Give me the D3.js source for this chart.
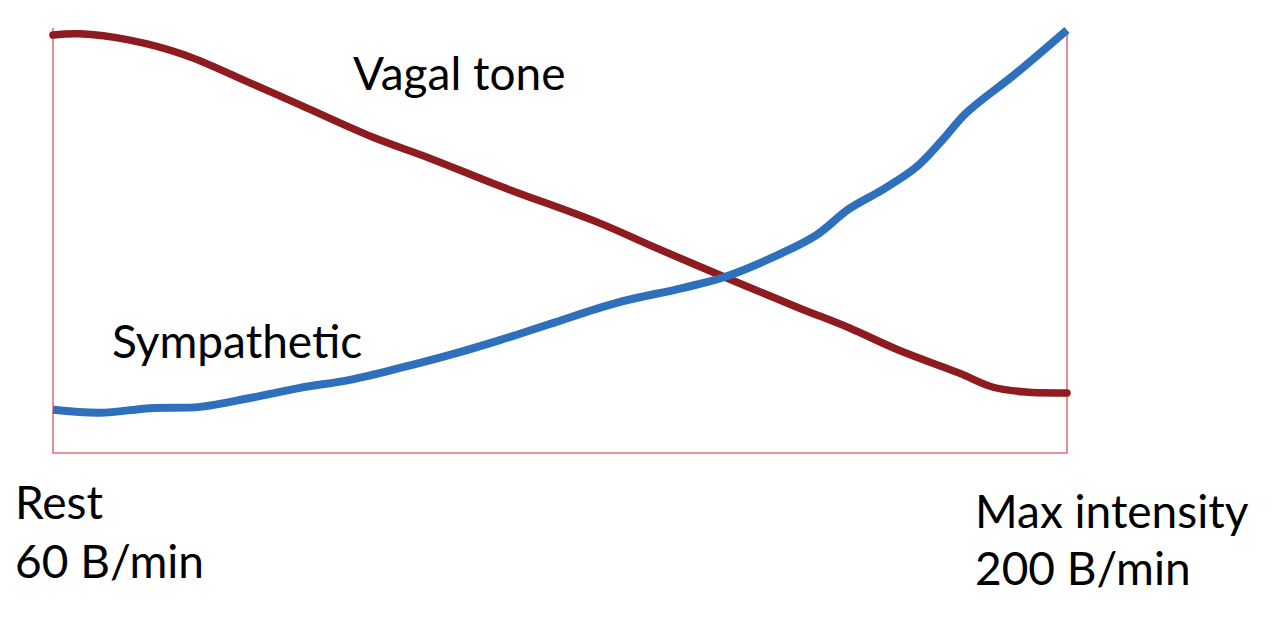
<!DOCTYPE html>
<html>
<head>
<meta charset="utf-8">
<script src="https://cdn.jsdelivr.net/npm/d3@7"></script>
<style>
  html, body { margin: 0; padding: 0; background: #fff; }
  svg { display: block; }
  text { font-family: Lato, "Open Sans", sans-serif; fill: #000; }
</style>
</head>
<body>
<svg id="chart" width="1288" height="626"></svg>
<script>
// Heart rate (beats/min) along the exercise intensity axis
const vagalHR  = [60, 63.7, 70.6, 78.2, 87.2, 94.1, 104.1, 112.0, 121.7, 135.4, 142.3, 152.7, 163.0, 169.9, 176.8, 185.1, 189.7, 194.3, 200];
const vagalVal = [98.8, 99.1, 97.6, 94.1, 87.5, 82.3, 74.7, 69.7, 63.1, 54.4, 49.2, 41.6, 34.3, 29.6, 24.3, 18.9, 15.6, 14.4, 14.2];

const sympHR  = [60, 66.5, 73.4, 80.3, 87.2, 94.1, 101.0, 107.9, 114.8, 121.7, 128.6, 137.8, 146.9, 152.7, 160.7, 165.4, 169.9, 174.5, 179.2, 182.8, 186.1, 193.0, 200];
const sympVal = [10.2, 9.5, 10.6, 10.9, 13.0, 15.4, 17.3, 20.1, 23.2, 26.7, 30.5, 35.5, 39.0, 41.6, 47.3, 51.5, 57.7, 62.2, 67.6, 74.0, 80.4, 89.8, 100];

const seriesNames = ["Vagal tone", "Sympathetic"];
const axisLabels = [["Rest", "60 B/min"], ["Max intensity", "200 B/min"]];

const svg = d3.select("#chart");
const x = d3.scaleLinear().domain([60, 200]).range([53, 1067]);
const y = d3.scaleLinear().domain([0, 100]).range([453, 30]);

// Frame (left, bottom, right; no top)
svg.append("path")
  .attr("d", d3.line()([[x(60), y(100.5)], [x(60), y(0)], [x(200), y(0)], [x(200), y(99.5)]]))
  .attr("fill", "none")
  .attr("stroke", "#e0707c")
  .attr("stroke-width", 1.6);

const line = d3.line()
  .x(d => x(d[0]))
  .y(d => y(d[1]))
  .curve(d3.curveCatmullRom.alpha(0.5));

svg.append("path")
  .datum(vagalHR.map((h, i) => [h, vagalVal[i]]))
  .attr("d", line)
  .attr("fill", "none")
  .attr("stroke", "#8e1b1f")
  .attr("stroke-width", 7.5)
  .attr("stroke-linecap", "round")
  .attr("stroke-linejoin", "round");

svg.append("path")
  .datum(sympHR.map((h, i) => [h, sympVal[i]]))
  .attr("d", line)
  .attr("fill", "none")
  .attr("stroke", "#2f70bd")
  .attr("stroke-width", 8)
  .attr("stroke-linecap", "butt")
  .attr("stroke-linejoin", "round");

const fs = 46;
// Series labels
svg.append("text").attr("x", 353).attr("y", 90).attr("font-size", fs).text(seriesNames[0]);
svg.append("text").attr("x", 112).attr("y", 358).attr("font-size", fs).text(seriesNames[1]);

// Axis end labels
const leftLbl = svg.append("text").attr("x", 15).attr("font-size", fs);
leftLbl.append("tspan").attr("x", 15).attr("y", 519).text(axisLabels[0][0]);
leftLbl.append("tspan").attr("x", 15).attr("y", 578).text(axisLabels[0][1]);

const rightLbl = svg.append("text").attr("x", 975).attr("font-size", fs);
rightLbl.append("tspan").attr("x", 975).attr("y", 528).text(axisLabels[1][0]);
rightLbl.append("tspan").attr("x", 975).attr("y", 585).text(axisLabels[1][1]);
</script>
</body>
</html>
